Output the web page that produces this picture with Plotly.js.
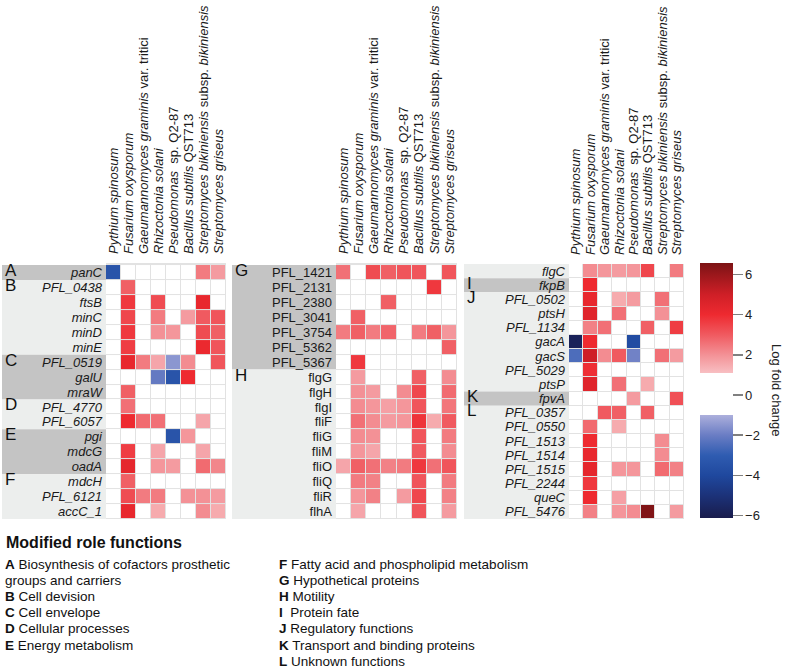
<!DOCTYPE html>
<html><head><meta charset="utf-8">
<script src="https://cdn.plot.ly/plotly-3.0.1.min.js"></script>
<style>html,body{margin:0;padding:0;background:#fff}#chart{width:787px;height:669px}</style>
</head><body><div id="chart"></div>
<script>
// ---------- data ----------
const species = ["Pythium spinosum", "Fusarium oxysporum", "Gaeumannomyces graminis var. tritici",
  "Rhizoctonia solani", "Pseudomonas sp. Q2-87", "Bacillus subtilis QST713",
  "Streptomyces bikiniensis subsp. bikiniensis", "Streptomyces griseus"];
const speciesLabels = ["<i>Pythium spinosum</i>", "<i>Fusarium oxysporum</i>",
  "<i>Gaeumannomyces graminis</i> var. tritici", "<i>Rhizoctonia solani</i>",
  "<i>Pseudomonas</i>  sp. Q2-87", "<i>Bacillus subtilis</i> QST713",
  "<i>Streptomyces bikiniensis</i> subsp. <i>bikiniensis</i>", "<i>Streptomyces griseus</i>"];

const panel1Genes = ["panC", "PFL_0438", "ftsB", "minC", "minD", "minE", "PFL_0519", "galU", "mraW",
  "PFL_4770", "PFL_6057", "pgi", "mdcG", "oadA", "mdcH", "PFL_6121", "accC_1"];
const panel1Values = [
  [-3.4, 0, 0, 0, 0, 0, 2.4, 1.8],
  [0, 2.9, 0, 0, 0, 0, 0, 0],
  [0, 3.7, 0, 3.3, 0, 0, 4.2, 0],
  [0, 3.4, 0, 2.4, 0, 1.8, 3.0, 3.1],
  [0, 3.7, 0, 2.0, 1.9, 0, 3.3, 2.9],
  [0, 3.6, 0, 0, 0, 0, 4.1, 3.1],
  [0, 4.2, 2.4, 1.6, -1.5, 2.1, 0, 3.1],
  [0, 0, 0, -2.1, -3.4, 4.0, 0, 0],
  [0, 2.9, 0, 0, 0, 0, 0, 0],
  [0, 2.6, 0, 0, 0, 0, 0, 0],
  [0, 4.0, 2.7, 2.6, 0, 0, 1.6, 0],
  [0, 0, 0, 0, -3.4, 1.9, 0, 0],
  [0, 3.6, 0, 1.6, 0, 0, 1.6, 0],
  [0, 4.3, 0, 1.9, 1.8, 0, 2.7, 2.2],
  [0, 2.9, 0, 0, 0, 0, 0, 0],
  [0, 3.3, 2.4, 2.4, 0, 2.0, 2.0, 1.8],
  [0, 4.2, 0, 1.5, 0, 0, 2.1, 1.5]
];
const panel1Groups = ["A", "B", "C", "D", "E", "F"];
const panel1GroupSizes = [1, 5, 3, 2, 3, 3];

const panel2Genes = ["PFL_1421", "PFL_2131", "PFL_2380", "PFL_3041", "PFL_3754", "PFL_5362", "PFL_5367",
  "flgG", "flgH", "flgI", "fliF", "fliG", "fliM", "fliO", "fliQ", "fliR", "flhA"];
const panel2Values = [
  [2.6, 0, 3.3, 2.9, 3.1, 3.1, 0, 3.1],
  [0, 0, 0, 0, 0, 0, 3.7, 0],
  [0, 0, 0, 2.9, 0, 0, 0, 0],
  [0, 2.9, 0, 0, 0, 0, 0, 0],
  [2.4, 2.9, 2.4, 2.8, 0, 2.4, 2.9, 1.9],
  [0, 0, 0, 0, 0, 0, 0, 2.9],
  [0, 3.7, 0, 0, 0, 0, 0, 0],
  [0, 1.8, 0, 0, 0, 2.9, 0, 2.1],
  [0, 2.0, 1.8, 0, 2.1, 3.4, 0, 2.7],
  [0, 2.1, 1.9, 1.7, 1.9, 3.1, 0, 2.5],
  [0, 2.6, 2.1, 1.8, 1.9, 3.8, 1.5, 3.0],
  [0, 2.1, 2.0, 0, 0, 3.1, 0, 2.4],
  [0, 1.9, 1.6, 0, 0, 3.0, 0, 2.1],
  [1.6, 2.9, 2.6, 2.3, 2.4, 3.7, 2.6, 3.1],
  [0, 2.4, 2.3, 0, 0, 3.1, 0, 2.4],
  [0, 1.9, 2.3, 0, 1.8, 3.4, 0, 2.3],
  [0, 1.6, 0, 0, 0, 3.1, 0, 1.8]
];
const panel2Groups = ["G", "H"];
const panel2GroupSizes = [7, 10];

const panel3Genes = ["flgC", "fkpB", "PFL_0502", "ptsH", "PFL_1134", "gacA", "gacS", "PFL_5029", "ptsP",
  "fpvA", "PFL_0357", "PFL_0550", "PFL_1513", "PFL_1514", "PFL_1515", "PFL_2244", "queC", "PFL_5476"];
const panel3Values = [
  [0, 2.1, 1.9, 1.8, 1.9, 3.4, 0, 2.4],
  [0, 4.0, 0, 0, 0, 0, 0, 0],
  [0, 4.2, 0, 1.5, 1.8, 0, 2.6, 0],
  [0, 4.5, 0, 2.6, 0, 0, 2.0, 0],
  [0, 2.3, 2.6, 0, 0, 2.9, 0, 3.6],
  [-5.8, 4.0, 0, 0, -3.8, 0, 0, 0],
  [-2.5, 5.0, 2.1, 3.0, -1.9, 0, 2.6, 1.8],
  [0, 3.9, 0, 0, 0, 0, 0, 0],
  [0, 4.5, 0, 2.6, 0, 1.5, 0, 0],
  [0, 0, 0, 0, 1.8, 0, 0, 3.2],
  [0, 0, 3.0, 2.9, 0, 2.9, 0, 0],
  [0, 2.7, 0, 1.5, 0, 0, 0, 0],
  [0, 4.0, 0, 0, 0, 0, 2.1, 0],
  [0, 4.2, 0, 0, 0, 0, 2.1, 0],
  [0, 4.3, 0, 1.9, 1.9, 0, 2.7, 2.3],
  [0, 3.7, 0, 0, 0, 0, 0, 0],
  [0, 4.0, 0, 1.7, 0, 0, 0, 0],
  [0, 2.3, 0, 1.9, 2.1, 6.5, 0, 1.8]
];
const panel3Groups = ["H", "I", "J", "K", "L"];
const panel3GroupSizes = [1, 1, 7, 1, 8];
const panel3ContinuedGroup = "H";

const colorbarTicks = [-6, -4, -2, 0, 2, 4, 6];
const colorbarTitle = "Log fold change";

const legendTitle = "Modified role functions";
const roleLetters = ["A", "", "B", "C", "D", "E", "F", "G", "H", "I", "J", "K", "L"];
const roleNames = ["Biosynthesis of cofactors prosthetic", "groups and carriers", "Cell devision", "Cell envelope",
  "Cellular processes", "Energy metabolism", "Fatty acid and phospholipid metabolism",
  "Hypothetical proteins", "Motility", " Protein fate", "Regulatory functions",
  "Transport and binding proteins", "Unknown functions"];

// ---------- layout helpers ----------
const W = 787, H = 669;
const FONT = "Liberation Sans, Arial, sans-serif";
const px = x => x / W;
const py = y => 1 - y / H;

const cmin = -6.12, cmax = 6.57;
const colorStops = [[-6.12, "#191c4c"], [-5, "#1c3279"], [-4, "#1f489e"], [-3, "#2f5cb1"], [-2, "#6a7dc4"],
  [-1, "#acafdc"], [-1, "#ffffff"], [1.1, "#ffffff"], [1.1, "#f8bfc2"], [2, "#f39196"], [3, "#f05a60"],
  [4, "#ee2a30"], [5, "#cf1f27"], [6.57, "#7c1315"]];
const colorscale = colorStops.map(s => [(s[0] - cmin) / (cmax - cmin), s[1]]);

const panels = [
  {genes: panel1Genes, z: panel1Values, groups: panel1Groups, sizes: panel1GroupSizes, italic: true,
   x0: 106, x1: 226, y0: 263, y1: 519, band0: 2, cont: null},
  {genes: panel2Genes, z: panel2Values, groups: panel2Groups, sizes: panel2GroupSizes, italic: false,
   x0: 336, x1: 457, y0: 263, y1: 519, band0: 232, cont: null},
  {genes: panel3Genes, z: panel3Values, groups: panel3Groups, sizes: panel3GroupSizes, italic: true,
   x0: 569, x1: 684, y0: 264, y1: 519, band0: 464, cont: panel3ContinuedGroup}
];

const darkBand = "#c4c4c4", lightBand = "#eceeed";
const traces = [];
const layout = {
  width: W, height: H, margin: {l: 0, r: 0, t: 0, b: 0},
  paper_bgcolor: "#ffffff", plot_bgcolor: "#e2e2e2",
  font: {family: FONT, color: "#1a1a1a"},
  showlegend: false, shapes: [], annotations: [],
  coloraxis: {
    cmin: cmin, cmax: cmax, colorscale: colorscale,
    colorbar: {
      x: px(700), xanchor: "left", xpad: 0, ypad: 0,
      y: py((263 + 518) / 2), yanchor: "middle", len: 255, lenmode: "pixels",
      thickness: 33, thicknessmode: "pixels", outlinewidth: 0,
      tickmode: "array", tickvals: colorbarTicks, ticks: "outside", ticklen: 10,
      tickcolor: "#808080", tickwidth: 1.5, ticklabelstandoff: 2,
      tickfont: {family: FONT, size: 13, color: "#222"}
    }
  }
};

panels.forEach((p, i) => {
  const sfx = i === 0 ? "" : String(i + 1);
  traces.push({
    type: "heatmap", x: species, y: p.genes, z: p.z, coloraxis: "coloraxis",
    xaxis: "x" + sfx, yaxis: "y" + sfx, xgap: 1, ygap: 1, hoverongaps: false
  });
  layout["xaxis" + sfx] = {
    domain: [px(p.x0), px(p.x1)], anchor: "y" + sfx, side: "top", type: "category",
    tickmode: "array", tickvals: species, ticktext: speciesLabels, tickangle: -90,
    tickfont: {family: FONT, size: 13, color: "#1a1a1a"}, ticks: "", ticklabelstandoff: 8,
    showgrid: false, zeroline: false, showline: false, fixedrange: true, automargin: false
  };
  layout["yaxis" + sfx] = {
    domain: [py(p.y1), py(p.y0)], anchor: "x" + sfx, type: "category", autorange: "reversed",
    tickmode: "array", tickvals: p.genes, ticktext: p.genes,
    tickfont: {family: FONT, size: 13, color: "#1a1a1a", style: p.italic ? "italic" : "normal"},
    ticks: "", ticklabelstandoff: 3, showgrid: false, zeroline: false, showline: false,
    fixedrange: true, automargin: false
  };
  let start = 0;
  p.groups.forEach((g, k) => {
    const dark = (g.charCodeAt(0) - 65) % 2 === 0;
    layout.shapes.push({
      type: "rect", layer: "below", xref: "paper", yref: "y" + sfx,
      x0: px(p.band0), x1: px(p.x0), y0: start - 0.5, y1: start + p.sizes[k] - 0.5,
      fillcolor: dark ? darkBand : lightBand, line: {width: 0}
    });
    if (g !== p.cont) {
      layout.annotations.push({
        xref: "paper", yref: "y" + sfx, x: px(p.band0 + 1), y: start, xanchor: "left", yanchor: "middle",
        yshift: 2, text: g, showarrow: false, font: {family: FONT, size: 17, color: "#111"}
      });
    }
    start += p.sizes[k];
  });
});

// colorbar title
layout.annotations.push({
  xref: "paper", yref: "paper", x: px(777), y: py(390), textangle: 90, xanchor: "center", yanchor: "middle",
  text: colorbarTitle, showarrow: false, font: {family: FONT, size: 13, color: "#222"}
});

// role legend
layout.annotations.push({
  xref: "paper", yref: "paper", x: px(4), y: py(542), xanchor: "left", yanchor: "middle",
  text: "<b>" + legendTitle + "</b>", showarrow: false, font: {family: FONT, size: 16, color: "#111"}
});
const lineStep = 16.2;
const leftCount = 6;
roleNames.forEach((name, i) => {
  const col = i < leftCount ? 0 : 1;
  const row = i < leftCount ? i : i - leftCount;
  const letter = roleLetters[i];
  layout.annotations.push({
    xref: "paper", yref: "paper", x: px(col === 0 ? 4 : 278), y: py(564 + row * lineStep),
    xanchor: "left", yanchor: "middle", showarrow: false, borderpad: 0,
    text: (letter ? "<b>" + letter + "</b> " : "") + name,
    font: {family: FONT, size: 13.5, color: "#111"}
  });
});

Plotly.newPlot("chart", traces, layout, {displayModeBar: false, staticPlot: true});
</script>
</body></html>
